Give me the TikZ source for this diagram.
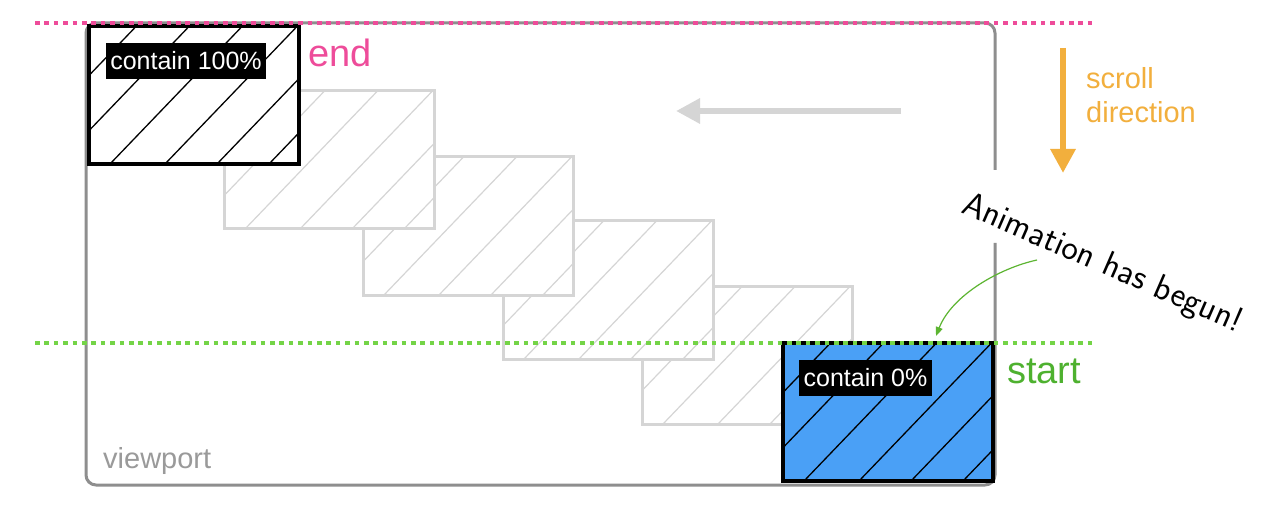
\documentclass[tikz,border=0pt]{standalone}
\usepackage{fontspec}
\setmainfont{Liberation Sans}
\usetikzlibrary{arrows.meta}
\definecolor{vpgray}{HTML}{8E8E8E}
\definecolor{ghost}{HTML}{D5D5D5}
\definecolor{pinkc}{HTML}{EE4C9A}
\definecolor{limec}{HTML}{74D447}
\definecolor{greent}{HTML}{4EB12F}
\definecolor{bluef}{HTML}{4AA0F6}
\definecolor{orangec}{HTML}{F2AF3D}
\definecolor{arrowg}{HTML}{5DB532}
\definecolor{vptext}{HTML}{9A9A9A}
\newcommand\hatchin[5]{%
  \begin{scope}
    \clip (#1,#2) rectangle (#3,#4);
    \foreach \hoff in {-85,-32,21,76,128,180}{
      \draw[#5] ({#1+\hoff-0.96*20},{#4+20}) -- ({#1+\hoff+0.96*160},{#4-160});
    }
  \end{scope}}
\newcommand\ghostslab[4]{%
  \fill[white] (#1,#2) rectangle (#3,#4);
  \hatchin{#1}{#2}{#3}{#4}{ghosthatch}
  \draw[ghostline] (#1,#2) rectangle (#3,#4);}
\begin{document}
\begin{tikzpicture}[x=1pt,y=-1pt,
  ghostline/.style={draw=ghost, line width=3pt},
  ghosthatch/.style={draw=ghost, line width=1.2pt},
  solidline/.style={draw=black, line width=4pt},
  solidhatch/.style={draw=black, line width=1.3pt},
  lbl/.style={fill=black, text=white, font=\fontsize{25}{30}\selectfont,
    inner xsep=4.5pt, inner ysep=0pt, minimum height=36pt},
  dotline/.style={line width=4.5pt, dash pattern=on 4.5pt off 4.9pt},
  bigtext/.style={anchor=base west, inner sep=0pt, font=\fontsize{38}{44}\selectfont},
  midtext/.style={anchor=base west, inner sep=0pt, font=\fontsize{29}{34}\selectfont},
  fatarrow/.style={line width=6pt, -{Triangle[length=24pt,width=24pt]}},
  thinarrow/.style={line width=1.2pt, draw=arrowg, -{Triangle[length=9pt,width=7pt]}, arrowg}
]
\useasboundingbox (0,0) rectangle (1280,505);
\fill[white] (0,0) rectangle (1280,505);

% viewport (with gap where the note crosses)
\draw[vpgray, line width=3pt, rounded corners=10pt]
  (995,243) -- (995,485) -- (86,485) -- (86,23) -- (995,23) -- (995,170);

% ghost positions
\ghostslab{642}{286}{852}{424}
\ghostslab{503}{221}{713}{359}
\ghostslab{363}{157}{573}{295}
\ghostslab{224}{91}{434}{229}

% end box
\fill[white] (89,26) rectangle (299,164);
\hatchin{89}{26}{299}{164}{solidhatch}
\draw[solidline] (89,26) rectangle (299,164);

% start box
\fill[bluef] (783,343) rectangle (993,481);
\hatchin{783}{343}{993}{481}{solidhatch}
\draw[solidline] (783,343) rectangle (993,481);

% labels
\node[lbl] (lab100) at (186,61) {contain 100\%};
\node[lbl] (lab0) at (865.5,378) {contain 0\%};

% dotted lines
\draw[dotline, pinkc] (35,23) -- (1093,23);
\draw[dotline, limec] (35,343) -- (1093,343);

\node[bigtext, text=pinkc] (endlbl) at (308,67) {end};
\node[bigtext, text=greent] (startlbl) at (1007,383) {start};
\node[midtext, text=vptext] (vplbl) at (103,468) {viewport};
\node[midtext, text=orangec] (scroll1) at (1086,89) {scroll};
\node[midtext, text=orangec] (scroll2) at (1086,123) {direction};

% arrows
\coordinate (ga1) at (901,111);
\coordinate (ga2) at (676,111);
\draw[fatarrow, ghost] (ga1) -- (ga2);
\coordinate (oa1) at (1063,48);
\coordinate (oa2) at (1063,173);
\draw[fatarrow, orangec] (oa1) -- (oa2);

% note
\node[anchor=base west, rotate=-23.5, inner sep=0pt,
  font=\sffamily\fontsize{35}{42}\selectfont] (anim) at (960,212) {Animation has begun!};
\coordinate (gs) at (1037,260);
\coordinate (ge) at (936,336);
\draw[thinarrow] (gs) .. controls (1000,268) and (952,295) .. (ge);
\end{tikzpicture}
\end{document}
